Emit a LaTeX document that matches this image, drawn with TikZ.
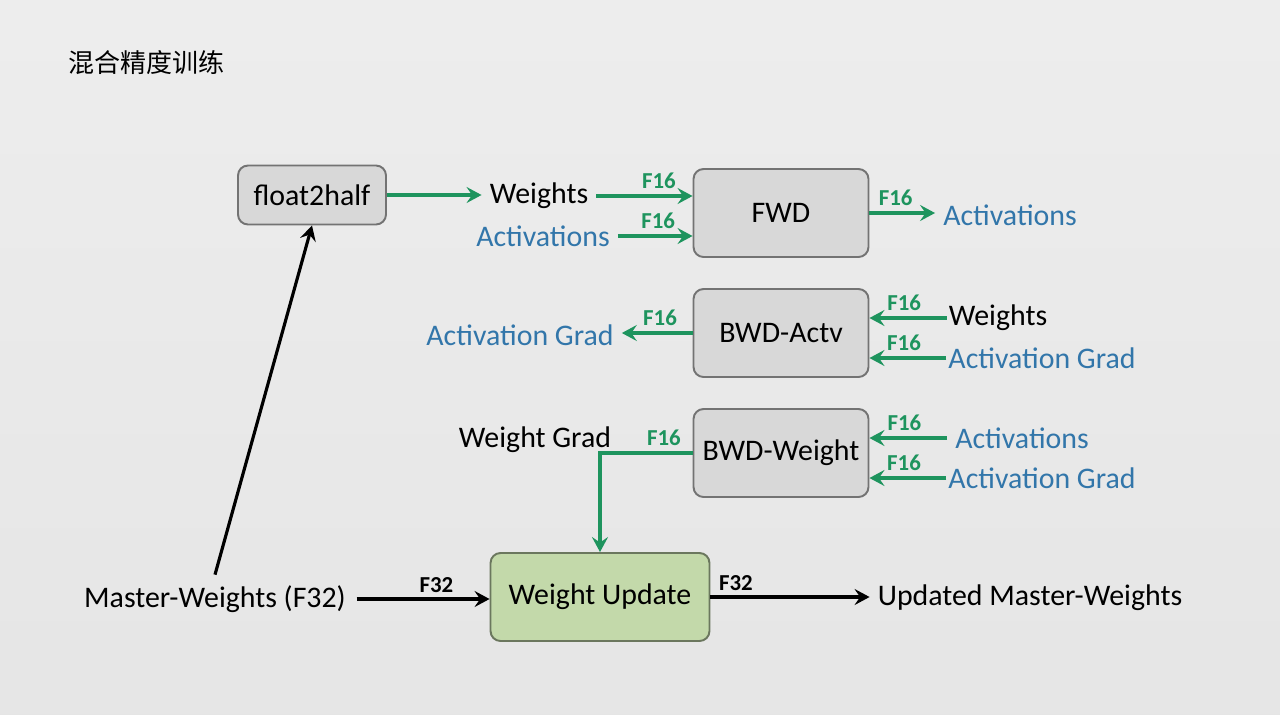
\documentclass[tikz,border=0pt]{standalone}
\usepackage{fontspec}
\setmainfont{Carlito}
\newfontfamily\cjk{Noto Sans CJK SC}
\usetikzlibrary{arrows.meta,calc}
\definecolor{arrgreen}{RGB}{30,148,94}
\definecolor{txtblue}{RGB}{50,118,170}
\definecolor{boxgray}{RGB}{216,216,216}
\definecolor{boxgreen}{RGB}{195,217,170}
\tikzset{blk/.style={draw=black!55, fill=boxgray, rounded corners=0.2cm, line width=1.1pt,
    minimum width=3.5cm, minimum height=1.76cm, font=\fontsize{17}{20}\selectfont},
  txt/.style={font=\fontsize{17}{20}\selectfont, inner sep=4.5pt},
  lbl/.style={font=\fontsize{13}{15}\selectfont\bfseries, text=arrgreen, inner sep=3pt, above},
  garr/.style={draw=arrgreen, line width=2pt, -{Stealth[length=3mm,width=3.2mm,inset=1.1mm]}},
  barr/.style={draw=black, line width=1.8pt, -{Stealth[length=3mm,width=3.2mm,inset=1.1mm]}}}

\begin{document}
\begin{tikzpicture}[x=0.02cm, y=-0.02cm]
\shade[top color=black!7, middle color=black!0.5, bottom color=black!10] (0,0) rectangle (1280,714);
\useasboundingbox (0,0) rectangle (1280,714);
\node[anchor=west, font=\cjk\fontsize{14.8}{17}\selectfont, inner sep=0pt] (title) at (68,63) {混合精度训练};
% boxes
\node[blk, minimum width=2.96cm, minimum height=1.18cm] (f2h) at (312,195) {float2half};
\node[blk] (fwd) at (781,213) {FWD};
\node[blk] (bwda) at (781,333) {BWD-Actv};
\node[blk] (bwdw) at (781,453) {BWD-Weight};
\node[blk, fill=boxgreen, draw=black!45!boxgreen, minimum width=4.38cm] (wu) at (600,597) {Weight Update};
% texts
\node[txt] (w1) at (539,196) {Weights};
\node[txt, text=txtblue] (a1) at (543,236) {Activations};
\node[txt, text=txtblue] (a2) at (1010,215) {Activations};
\node[txt, text=txtblue] (ag1) at (520,335) {Activation Grad};
\node[txt, inner sep=1pt] (w2) at (998,318) {Weights};
\node[txt, text=txtblue, inner sep=1pt] (ag2) at (1042,358) {Activation Grad};
\node[txt, text=txtblue] (a3) at (1022,438) {Activations};
\node[txt, text=txtblue, inner sep=1pt] (ag3) at (1042,478) {Activation Grad};
\node[txt] (wg) at (535,440) {Weight Grad};
\node[txt, inner sep=6pt] (mw) at (215,599) {Master-Weights (F32)};
\node[txt] (umw) at (1030,598) {Updated Master-Weights};
% forward
\draw[garr] (f2h.east) -- (f2h.east -| w1.west);
\draw[garr] (w1.east) -- node[lbl, pos=.65] (l1) {F16} (w1.east -| fwd.west);
\draw[garr] (a1.east) -- node[lbl, pos=.54] (l2) {F16} (a1.east -| fwd.west);
\draw[garr] (fwd.east) -- node[lbl, pos=.4] (l3) {F16} (fwd.east -| a2.west);
% backward
\draw[garr] (bwda.west) -- node[lbl, pos=.46] (l4) {F16} (bwda.west -| ag1.east);
\draw[garr] (w2.west) -- node[lbl, pos=.55] (l5) {F16} (w2.west -| bwda.east);
\draw[garr] (ag2.west) -- node[lbl, pos=.55] (l6) {F16} (ag2.west -| bwda.east);
\draw[garr] (a3.west) -- node[lbl, pos=.55] (l7) {F16} (a3.west -| bwdw.east);
\draw[garr] (ag3.west) -- node[lbl, pos=.55] (l8) {F16} (ag3.west -| bwdw.east);
\draw[garr] (bwdw.west) -- node[lbl, pos=.31] (l9) {F16} (bwdw.west -| wu.north) -- (wu.north);
% master weights
\draw[barr] (mw.north) -- (f2h.south);
\draw[barr] (mw.east) -- node[lbl, text=black, pos=.6] (l10) {F32} (mw.east -| wu.west);
\draw[barr] (wu.east) -- node[lbl, text=black, pos=.16] (l11) {F32} (wu.east -| umw.west);
\end{tikzpicture}
\end{document}
